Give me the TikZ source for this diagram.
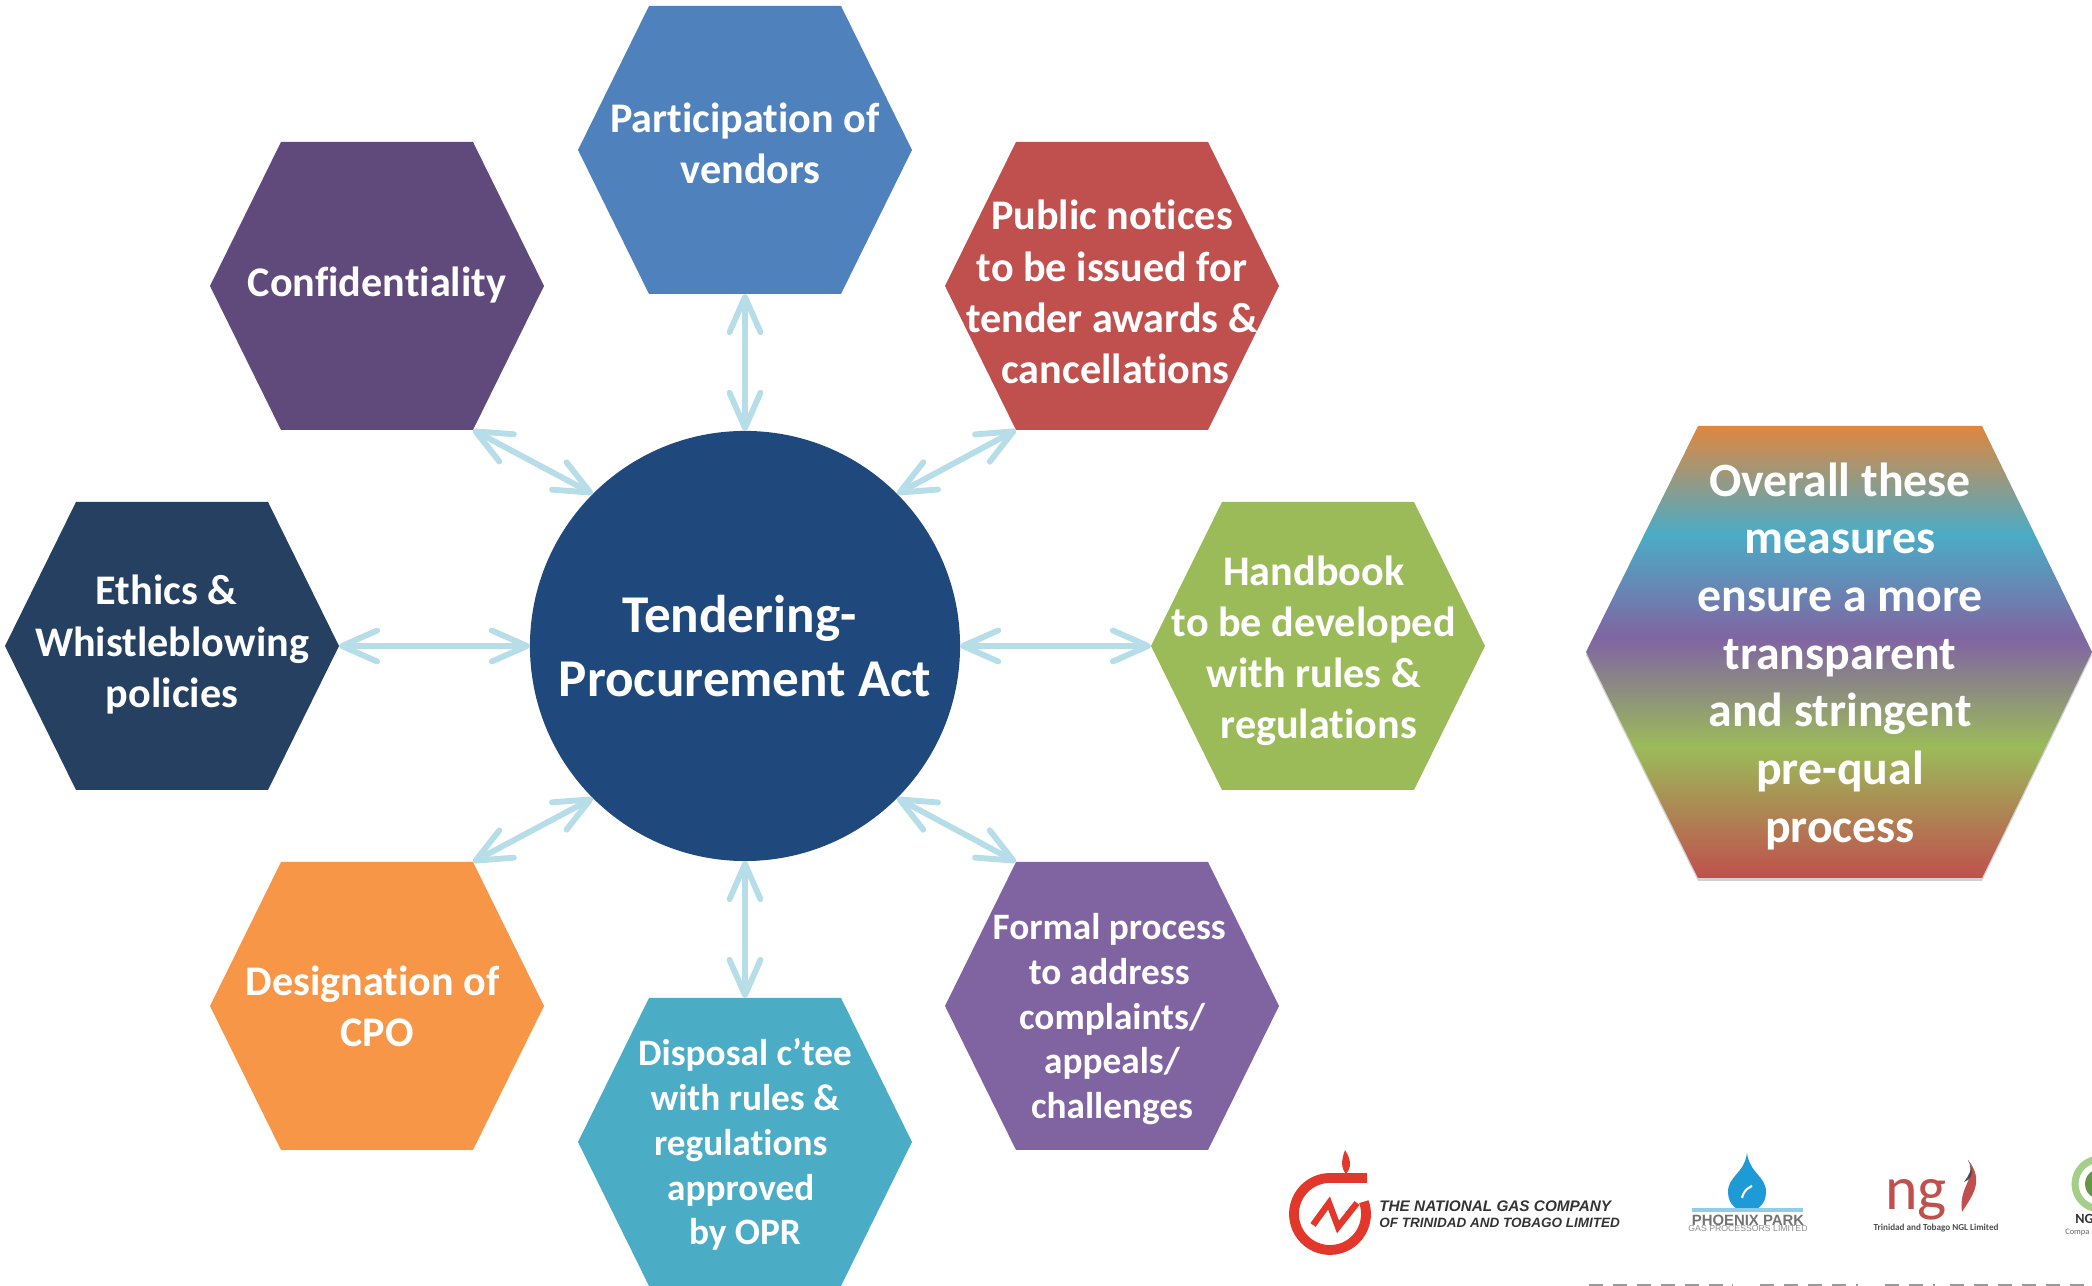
\documentclass[tikz,border=0pt]{standalone}
\usepackage{fontspec}
\setmainfont[Ligatures=NoCommon]{Carlito}
\newfontfamily\logofont{Liberation Sans}
\usetikzlibrary{arrows.meta}

\definecolor{bleuclair}{HTML}{B7DEE8}
\definecolor{bleuhub}{HTML}{1F497D}
\definecolor{bleuhex}{HTML}{4F81BD}
\definecolor{rouge}{HTML}{C0504D}
\definecolor{vert}{HTML}{9BBB59}
\definecolor{violet}{HTML}{8064A2}
\definecolor{violetfonce}{HTML}{604A7B}
\definecolor{turquoise}{HTML}{4BACC6}
\definecolor{orange}{HTML}{F79646}
\definecolor{marine}{HTML}{254061}
\definecolor{rougelogo}{HTML}{E2382B}
\definecolor{bleulogo}{HTML}{1E9BD7}
\definecolor{vertlogo}{HTML}{7DBB5A}

\pgfdeclareverticalshading{arcenciel}{100bp}{
  color(0bp)=(rouge); color(25bp)=(rouge); color(39.5bp)=(vert); color(51.5bp)=(violet);
  color(63bp)=(turquoise); color(75bp)=(orange!90!black); color(100bp)=(orange!90!black)}

\tikzset{
  lien/.style={{Straight Barb[length=25pt,width=22pt,round]}-{Straight Barb[length=25pt,width=22pt,round]},
    line width=4.2pt, bleuclair},
  texte/.style={align=center, text=white, font=\fontsize{30}{36.4}\selectfont\bfseries},
  petit/.style={font=\fontsize{26.5}{31.8}\selectfont\bfseries},
  logotexte/.style={inner sep=0pt, text=black!80, font=\logofont\fontsize{10.9}{12}\selectfont\bfseries\itshape}
}

% hexagone : nom, x, y, couleur, texte
\newcommand{\hexagone}[6][]{%
  \fill[#5] (#3-\demilong,#4) -- (#3-\demihaut,#4+\demiy) -- (#3+\demihaut,#4+\demiy)
    -- (#3+\demilong,#4) -- (#3+\demihaut,#4-\demiy) -- (#3-\demihaut,#4-\demiy) -- cycle;
  \coordinate (#2g) at (#3-\demilong,#4);
  \coordinate (#2d) at (#3+\demilong,#4);
  \coordinate (#2hg) at (#3-\demihaut,#4+\demiy);
  \coordinate (#2hd) at (#3+\demihaut,#4+\demiy);
  \coordinate (#2bg) at (#3-\demihaut,#4-\demiy);
  \coordinate (#2bd) at (#3+\demihaut,#4-\demiy);
  \coordinate (#2h) at (#3,#4+\demiy);
  \coordinate (#2b) at (#3,#4-\demiy);
  \node[texte,#1] (#2) at (#3,#4) {#6};
}

\begin{document}
\begin{tikzpicture}[x=0.025cm,y=0.025cm]

%%%%%%%%%%%%%%%%%%%%%%
%%%	 Def geometrie  %%%
%%%%%%%%%%%%%%%%%%%%%%

\def \largeur{2092}
\def \hauteur{1286}
\def \demilong{167}
\def \demihaut{96}
\def \demiy{144}
\def \rayon{215}

\clip (0,0) rectangle (\largeur,\hauteur);
\useasboundingbox (0,0) rectangle (\largeur,\hauteur);

%%%%%%%%%%%%%%%%%%%%%%
%%%	    Dessin      %%%
%%%%%%%%%%%%%%%%%%%%%%

\node[circle, fill=bleuhub, minimum size=10.75cm, inner sep=0pt, outer sep=0pt, align=center, text=white,
  font=\fontsize{37.8}{46}\selectfont\bfseries] (act) at (745,640) {\hspace{-8pt}Tendering-\\Procurement Act};

\hexagone[yshift=5pt]{part}{745}{1136}{bleuhex}{Participation of\\\hspace{8pt}vendors}
\hexagone[yshift=1pt]{conf}{377}{1000}{violetfonce}{Confidentiality}
\hexagone[yshift=-4.3pt]{publ}{1112}{1000}{rouge}{Public notices\\to be issued for\\tender awards \&\\\hspace{5pt}cancellations}
\hexagone[yshift=1pt]{ethi}{172}{640}{marine}{\hspace{-8pt}Ethics \&\\Whistleblowing\\policies}
\hexagone[yshift=-3.5pt,xshift=-3pt]{hand}{1318}{640}{vert}{Handbook\\to be developed\\with rules \&\\\hspace{7pt}regulations}
\hexagone{desi}{377}{280}{orange}{\hspace{-6pt}Designation of\\CPO}
\hexagone[petit,yshift=-9.5pt]{form}{1112}{280}{violet}{\hspace{-4pt}Formal process\\\hspace{-4pt}to address\\complaints/\\appeals/\\challenges}
\hexagone[petit,yshift=-1.9pt]{disp}{745}{144}{turquoise}{Disposal c’tee\\with rules \&\\\hspace{-6pt}regulations\\\hspace{-6pt}approved\\by OPR}

% On dessine les liens avec le noeud central
\draw[lien] (partb) -- (act.north);
\draw[lien] (confbd) -- (act.135);
\draw[lien] (publbg) -- (act.45);
\draw[lien] (ethid) -- (act.west);
\draw[lien] (handg) -- (act.east);
\draw[lien] (desihd) -- (act.225);
\draw[lien] (formhg) -- (act.315);
\draw[lien] (disph) -- (act.south);

%%%%%%%%%%%%%%%%%%%%%%
%%%	    Bilan       %%%
%%%%%%%%%%%%%%%%%%%%%%

\fill[black, opacity=0.18] (1586,631) -- (1698,857) -- (1982,857) -- (2092,631) -- (1982,405) -- (1698,405) -- cycle;
\shade[shading=arcenciel] (1586,634) -- (1698,860) -- (1982,860) -- (2092,634) -- (1982,408) -- (1698,408) -- cycle;
\node[align=center, text=white, yshift=-3pt, font=\fontsize{34}{41}\selectfont\bfseries] (bilan) at (1840,634)
  {Overall these\\measures\\ensure a more\\transparent\\and stringent\\pre-qual\\process};

%%%%%%%%%%%%%%%%%%%%%%
%%%	    Logos       %%%
%%%%%%%%%%%%%%%%%%%%%%

% On dessine le logo rouge
\draw[rougelogo, line width=7pt] (1367,108) -- (1330,108) arc (90:380:36);
\draw[rougelogo, line width=4.5pt] (1313,61) -- (1329,83) -- (1338,59) -- (1357,83);
\fill[rougelogo] (1345,136) .. controls (1352,125) and (1351,118) .. (1346,112) .. controls (1341,118) and (1341,125) .. (1345,136) -- cycle;

\node[logotexte, anchor=west] (ngcA) at (1379,80) {THE NATIONAL GAS COMPANY};
\node[logotexte, anchor=west, font=\logofont\fontsize{9.6}{11}\selectfont\bfseries\itshape] (ngcB) at (1379,63) {OF TRINIDAD AND TOBAGO LIMITED};

% On dessine la goutte bleue
\fill[bleulogo] (1747,133) .. controls (1750,112) and (1766,110) .. (1766,94)
  .. controls (1766,68) and (1728,68) .. (1728,94) .. controls (1728,110) and (1744,112) .. (1747,133) -- cycle;
\draw[white, line width=1.5pt] (1742,88) .. controls (1744,96) and (1748,98) .. (1752,100);
\fill[bleulogo!50] (1692,74) rectangle (1803,78);
\node[logotexte, text=black!55, font=\logofont\fontsize{10.6}{11}\selectfont\bfseries] (phoe) at (1748,66) {PHOENIX PARK};
\node[logotexte, text=black!45, font=\logofont\fontsize{6.2}{7}\selectfont] (gas) at (1748,57) {GAS PROCESSORS LIMITED};

% On dessine le logo ngl
\node[anchor=base west, inner sep=0pt, text=rouge, font=\fontsize{44}{44}\selectfont] (ngl) at (1885,76) {ng};
\fill[rouge] (1968,126) .. controls (1978,108) and (1958,100) .. (1962,74)
  .. controls (1972,90) and (1985,105) .. (1968,126) -- cycle;
\fill[black!70] (1968,126) .. controls (1974,116) and (1968,110) .. (1964,104) .. controls (1970,106) and (1976,112) .. (1968,126) -- cycle;
\node[logotexte, text=black!70, font=\fontsize{6.5}{7}\selectfont\bfseries] (ngltt) at (1936,58) {Trinidad and Tobago NGL Limited};

% On dessine le dernier logo
\draw[vertlogo!70, line width=5pt] (2100,102) circle (25);
\fill[vertlogo!80!black] (2100,102) circle (15);
\node[logotexte, anchor=west, text=black!80, font=\fontsize{10}{11}\selectfont\bfseries] (dern) at (2075,67) {NG};
\node[logotexte, anchor=west, text=black!60, font=\fontsize{6}{7}\selectfont] (comp) at (2065,54) {Compa};

% On dessine le haut de la derniere ligne
\draw[black!40, line width=1.5pt, dash pattern=on 10pt off 7pt] (1589,1) -- (1733,1);
\draw[black!40, line width=1.5pt, dash pattern=on 10pt off 7pt] (1760,1) -- (1858,1);
\draw[black!40, line width=1.5pt, dash pattern=on 10pt off 7pt] (1885,1) -- (1935,1);
\draw[black!40, line width=1.5pt, dash pattern=on 10pt off 7pt] (1950,1) -- (2092,1);

\end{tikzpicture}
\end{document}
